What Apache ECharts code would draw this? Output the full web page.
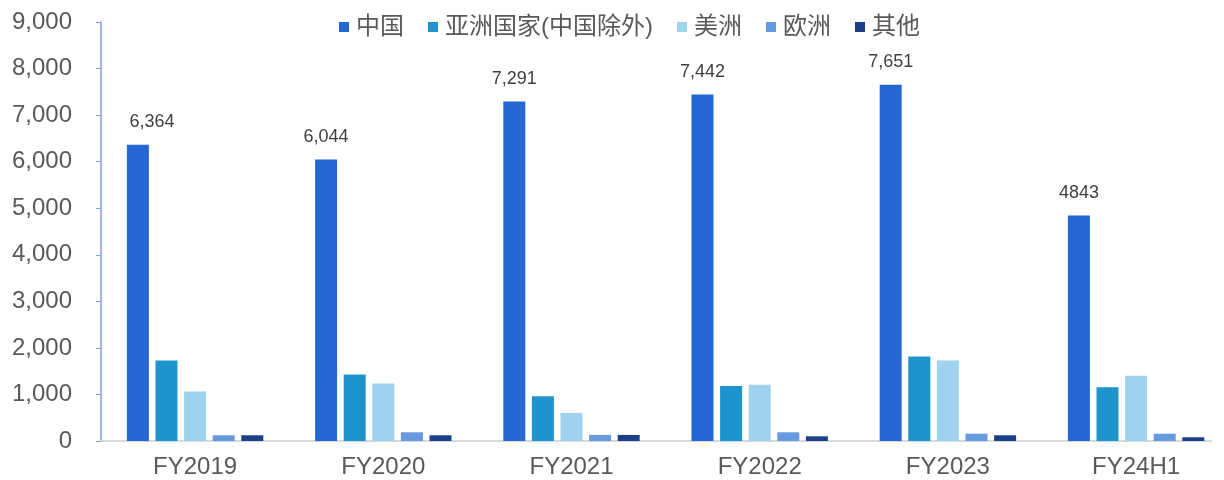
<!DOCTYPE html>
<html>
<head>
<meta charset="utf-8">
<script src="https://cdn.jsdelivr.net/npm/echarts@6/dist/echarts.min.js"></script>
<style>
  html, body { margin: 0; padding: 0; background: #fff; }
  #chart { width: 1224px; height: 480px; }
</style>
</head>
<body>
<div id="chart"></div>
<script>
// Revenue by region
const categories = ['FY2019', 'FY2020', 'FY2021', 'FY2022', 'FY2023', 'FY24H1'];
const seriesNames = ['中国', '亚洲国家(中国除外)', '美洲', '欧洲', '其他'];
const china    = [6364, 6044, 7291, 7442, 7651, 4843];
const asiaExCn = [1730, 1429, 963, 1179, 1817, 1157];
const americas = [1062, 1235, 603, 1207, 1730, 1400];
const europe   = [123, 187, 130, 187, 157, 157];
const others   = [123, 123, 130, 101, 123, 80];
const chinaLabels = ['6,364', '6,044', '7,291', '7,442', '7,651', '4843'];
const yTicks = [0, 1000, 2000, 3000, 4000, 5000, 6000, 7000, 8000, 9000];

const colors = ['#2367d3', '#1f93cc', '#9fd2ee', '#6699e0', '#1c3f8a'];
const FONT = '"Liberation Sans", Arial, "Noto Sans CJK SC", sans-serif';

const chart = echarts.init(document.getElementById('chart'), null, { renderer: 'canvas' });

function barSeries(name, values, color, withLabel) {
  const s = {
    name: name,
    type: 'bar',
    xAxisIndex: 0,
    yAxisIndex: 0,
    barWidth: 22,
    barGap: '30%',
    itemStyle: { color: color },
    data: values.map((v, i) => {
      const d = { value: v };
      if (withLabel && i === 0) d.label = { offset: [14, 0] };
      return d;
    })
  };
  if (withLabel) {
    s.label = {
      show: true,
      position: 'top',
      distance: 14,
      color: '#404040',
      fontSize: 18,
      fontFamily: FONT,
      formatter: p => chinaLabels[p.dataIndex]
    };
  }
  return s;
}

chart.setOption({
  animation: false,
  backgroundColor: '#ffffff',
  color: colors,
  grid: [
    // plotting grid: the last category runs slightly past the canvas edge
    { left: 101, width: 1129.2, top: 22, bottom: 39, containLabel: false, outerBoundsMode: 'none' },
    // baseline grid: carries the visible horizontal axis line
    { left: 101, right: 13, top: 22, bottom: 39, containLabel: false, outerBoundsMode: 'none' }
  ],
  legend: {
    top: 10,
    left: 334,
    itemWidth: 10,
    itemHeight: 10,
    itemGap: 24,
    icon: 'rect',
    textStyle: { color: '#595959', fontSize: 24, fontFamily: FONT, padding: [0, 0, 0, 2] },
    data: seriesNames
  },
  xAxis: [
    {
      type: 'category',
      gridIndex: 0,
      data: categories,
      axisLine: { show: false },
      axisTick: { show: false },
      axisLabel: { color: '#595959', fontSize: 24, fontFamily: FONT, margin: 14 }
    },
    {
      type: 'value',
      gridIndex: 1,
      min: 0,
      max: 1,
      axisLine: { show: true, lineStyle: { color: '#d9d9d9', width: 2 } },
      axisTick: { show: false },
      axisLabel: { show: false },
      splitLine: { show: false }
    }
  ],
  yAxis: [
    {
      type: 'value',
      gridIndex: 0,
      min: yTicks[0],
      max: yTicks[yTicks.length - 1],
      interval: 1000,
      axisLine: { show: true, lineStyle: { color: '#7f9fd8', width: 1.5 } },
      axisTick: { show: true, length: 5, lineStyle: { color: '#7f9fd8' } },
      splitLine: { show: false },
      axisLabel: {
        color: '#595959',
        fontSize: 24,
        fontFamily: FONT,
        margin: 29,
        formatter: v => v.toLocaleString('en-US')
      }
    },
    {
      type: 'value',
      gridIndex: 1,
      show: false,
      min: 0,
      max: 1
    }
  ],
  series: [
    barSeries(seriesNames[0], china, colors[0], true),
    barSeries(seriesNames[1], asiaExCn, colors[1], false),
    barSeries(seriesNames[2], americas, colors[2], false),
    barSeries(seriesNames[3], europe, colors[3], false),
    barSeries(seriesNames[4], others, colors[4], false)
  ]
});
</script>
</body>
</html>
